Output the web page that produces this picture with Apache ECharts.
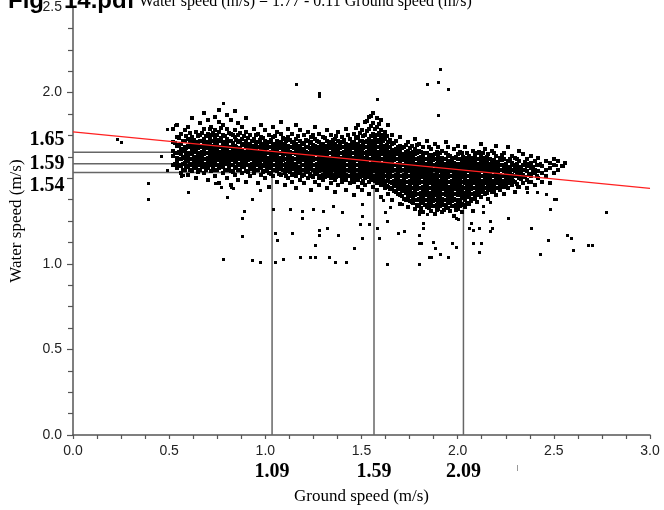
<!DOCTYPE html>
<html><head><meta charset="utf-8">
<script src="https://cdn.jsdelivr.net/npm/echarts@6/dist/echarts.min.js"></script>
<style>html,body{margin:0;padding:0;background:#fff}#c{width:664px;height:510px}</style>
</head><body><div id="c"></div>
<script>
// Ground speed columns (x) and the water speeds (y) read in each column
const colX = [0.52,0.54,0.56,0.58,0.60,0.62,0.64,0.66,0.68,0.70,
0.72,0.74,0.76,0.78,0.80,0.82,0.84,0.86,0.88,0.90,
0.92,0.94,0.96,0.98,1.00,1.02,1.04,1.06,1.08,1.10,
1.12,1.14,1.16,1.18,1.20,1.22,1.24,1.26,1.28,1.30,
1.32,1.34,1.36,1.38,1.40,1.42,1.44,1.46,1.48,1.50,
1.52,1.54,1.56,1.58,1.60,1.62,1.64,1.66,1.68,1.70,
1.72,1.74,1.76,1.78,1.80,1.82,1.84,1.86,1.88,1.90,
1.92,1.94,1.96,1.98,2.00,2.02,2.04,2.06,2.08,2.10,
2.12,2.14,2.16,2.18,2.20,2.22,2.24,2.26,2.28,2.30,
2.32,2.34,2.36,2.38,2.40,2.42,2.44,2.46,2.48,2.50,
2.52,2.54,2.56];
const colY = [
[1.58,1.63,1.66,1.71,1.79], // 0.52
[1.56,1.60,1.62,1.65,1.69,1.74,1.81], // 0.54
[1.53,1.57,1.61,1.64,1.67,1.70,1.76], // 0.56
[1.55,1.59,1.62,1.66,1.68,1.72,1.78], // 0.58
[1.52,1.57,1.60,1.63,1.65,1.69,1.73,1.80], // 0.60
[1.54,1.58,1.61,1.64,1.67,1.70,1.74,1.85], // 0.62
[1.50,1.56,1.59,1.62,1.66,1.68,1.71,1.77], // 0.64
[1.55,1.58,1.60,1.63,1.65,1.69,1.72,1.75,1.82], // 0.66
[1.53,1.57,1.61,1.64,1.67,1.70,1.73,1.79,1.88], // 0.68
[1.49,1.56,1.59,1.62,1.65,1.68,1.71,1.76,1.84], // 0.70
[1.54,1.58,1.60,1.63,1.66,1.69,1.72,1.75,1.80], // 0.72
[1.51,1.55,1.59,1.62,1.64,1.67,1.70,1.74,1.78,1.86], // 0.74
[1.47,1.56,1.58,1.61,1.65,1.68,1.72,1.77,1.83,1.90], // 0.76
[1.53,1.57,1.60,1.63,1.66,1.69,1.71,1.75,1.81], // 0.78
[1.50,1.55,1.59,1.62,1.64,1.67,1.70,1.73,1.79,1.87], // 0.80
[1.46,1.54,1.58,1.61,1.65,1.68,1.72,1.76,1.84], // 0.82
[1.52,1.56,1.60,1.63,1.66,1.69,1.74,1.78,1.89], // 0.84
[1.49,1.55,1.58,1.62,1.64,1.67,1.71,1.75,1.82], // 0.86
[1.53,1.57,1.60,1.63,1.66,1.70,1.73,1.80], // 0.88
[1.48,1.54,1.59,1.61,1.65,1.68,1.72,1.77,1.85], // 0.90
[1.51,1.56,1.58,1.62,1.64,1.67,1.70,1.75], // 0.92
[1.53,1.57,1.60,1.63,1.66,1.69,1.73,1.79], // 0.94
[1.47,1.55,1.59,1.61,1.64,1.68,1.71,1.76], // 0.96
[1.52,1.56,1.58,1.62,1.65,1.67,1.70,1.74,1.81], // 0.98
[1.50,1.54,1.57,1.60,1.63,1.66,1.69,1.72,1.78], // 1.00
[1.45,1.53,1.56,1.59,1.62,1.65,1.68,1.71,1.75], // 1.02
[1.51,1.55,1.58,1.61,1.64,1.67,1.70,1.74,1.80], // 1.04
[1.48,1.54,1.57,1.60,1.63,1.66,1.69,1.72,1.77], // 1.06
[1.52,1.56,1.59,1.62,1.65,1.68,1.71,1.76,1.83], // 1.08
[1.46,1.53,1.55,1.58,1.61,1.64,1.67,1.70,1.73], // 1.10
[1.50,1.54,1.57,1.60,1.63,1.66,1.69,1.74,1.79], // 1.12
[1.48,1.52,1.56,1.59,1.62,1.65,1.68,1.71,1.76], // 1.14
[1.44,1.51,1.55,1.58,1.61,1.64,1.67,1.70,1.73,1.81], // 1.16
[1.49,1.53,1.56,1.60,1.63,1.66,1.69,1.72,1.78], // 1.18
[1.47,1.52,1.55,1.58,1.61,1.64,1.67,1.70,1.75], // 1.20
[1.50,1.54,1.57,1.60,1.63,1.65,1.68,1.72,1.77], // 1.22
[1.43,1.51,1.56,1.59,1.62,1.64,1.67,1.71,1.74], // 1.24
[1.48,1.53,1.55,1.58,1.61,1.64,1.66,1.69,1.73,1.80], // 1.26
[1.46,1.50,1.54,1.57,1.60,1.63,1.66,1.68,1.71,1.76], // 1.28
[1.49,1.52,1.56,1.59,1.62,1.65,1.67,1.70,1.74], // 1.30
[1.44,1.51,1.55,1.58,1.60,1.63,1.66,1.69,1.72,1.78], // 1.32
[1.47,1.50,1.53,1.57,1.60,1.62,1.65,1.68,1.71,1.75], // 1.34
[1.42,1.49,1.52,1.56,1.59,1.61,1.64,1.67,1.70,1.73], // 1.36
[1.46,1.51,1.54,1.57,1.60,1.63,1.66,1.69,1.72,1.77], // 1.38
[1.48,1.50,1.53,1.56,1.59,1.62,1.65,1.68,1.71,1.74], // 1.40
[1.43,1.49,1.52,1.55,1.58,1.61,1.64,1.67,1.70,1.79], // 1.42
[1.47,1.51,1.54,1.57,1.60,1.63,1.66,1.69,1.73], // 1.44
[1.40,1.48,1.50,1.53,1.56,1.59,1.62,1.65,1.68,1.71,1.76], // 1.46
[1.45,1.49,1.52,1.55,1.58,1.61,1.64,1.67,1.70,1.74,1.81], // 1.48
[1.43,1.47,1.51,1.54,1.57,1.60,1.63,1.66,1.69,1.72,1.78], // 1.50
[1.46,1.50,1.53,1.56,1.59,1.62,1.65,1.68,1.71,1.75,1.83], // 1.52
[1.41,1.48,1.52,1.55,1.58,1.61,1.64,1.67,1.70,1.73,1.79,1.86], // 1.54
[1.45,1.49,1.51,1.54,1.57,1.60,1.63,1.66,1.69,1.72,1.76,1.82,1.88], // 1.56
[1.43,1.47,1.50,1.53,1.56,1.59,1.62,1.65,1.68,1.71,1.75,1.80,1.85], // 1.58
[1.39,1.46,1.49,1.52,1.55,1.58,1.61,1.64,1.67,1.70,1.74,1.78,1.84], // 1.60
[1.44,1.48,1.51,1.54,1.57,1.60,1.63,1.66,1.69,1.73,1.77], // 1.62
[1.41,1.45,1.50,1.53,1.56,1.59,1.62,1.65,1.68,1.71,1.81], // 1.64
[1.37,1.44,1.47,1.51,1.54,1.57,1.60,1.63,1.66,1.70,1.75], // 1.66
[1.42,1.46,1.49,1.52,1.55,1.58,1.61,1.64,1.67,1.72], // 1.68
[1.35,1.40,1.45,1.48,1.51,1.54,1.57,1.60,1.63,1.66,1.69,1.74], // 1.70
[1.38,1.43,1.46,1.49,1.52,1.55,1.58,1.61,1.64,1.68], // 1.72
[1.33,1.39,1.42,1.45,1.48,1.51,1.54,1.57,1.60,1.63,1.66,1.71], // 1.74
[1.36,1.41,1.44,1.47,1.50,1.53,1.56,1.59,1.62,1.65,1.69], // 1.76
[1.32,1.37,1.40,1.43,1.46,1.49,1.52,1.55,1.58,1.61,1.64,1.67,1.73], // 1.78
[1.34,1.38,1.41,1.44,1.47,1.50,1.53,1.56,1.59,1.62,1.66,1.70], // 1.80
[1.30,1.36,1.39,1.42,1.45,1.48,1.51,1.54,1.57,1.60,1.63,1.68], // 1.82
[1.33,1.37,1.40,1.43,1.46,1.49,1.52,1.55,1.58,1.61,1.65,1.72], // 1.84
[1.31,1.35,1.38,1.41,1.44,1.47,1.50,1.53,1.56,1.59,1.62,1.67], // 1.86
[1.29,1.34,1.37,1.40,1.43,1.46,1.49,1.52,1.55,1.58,1.61,1.64,1.70], // 1.88
[1.32,1.36,1.39,1.42,1.45,1.48,1.51,1.54,1.57,1.60,1.63,1.68], // 1.90
[1.30,1.35,1.38,1.41,1.44,1.47,1.50,1.53,1.56,1.59,1.62,1.66], // 1.92
[1.33,1.37,1.40,1.43,1.46,1.49,1.52,1.55,1.58,1.61,1.65,1.71], // 1.94
[1.31,1.36,1.39,1.42,1.45,1.48,1.51,1.54,1.57,1.60,1.63], // 1.96
[1.28,1.34,1.38,1.41,1.44,1.47,1.50,1.53,1.56,1.59,1.62,1.67], // 1.98
[1.32,1.36,1.40,1.43,1.46,1.49,1.52,1.55,1.58,1.61,1.64,1.69], // 2.00
[1.30,1.35,1.39,1.42,1.45,1.48,1.51,1.54,1.57,1.60,1.65], // 2.02
[1.33,1.37,1.41,1.44,1.47,1.50,1.53,1.56,1.59,1.62,1.68], // 2.04
[1.35,1.39,1.42,1.45,1.48,1.51,1.54,1.57,1.60,1.63], // 2.06
[1.31,1.38,1.41,1.44,1.47,1.50,1.53,1.56,1.59,1.62,1.66], // 2.08
[1.36,1.40,1.43,1.46,1.49,1.52,1.55,1.58,1.61,1.65], // 2.10
[1.39,1.42,1.45,1.48,1.51,1.54,1.57,1.60,1.63,1.70], // 2.12
[1.41,1.44,1.47,1.50,1.53,1.56,1.59,1.62,1.67], // 2.14
[1.38,1.43,1.46,1.49,1.52,1.55,1.58,1.61,1.64], // 2.16
[1.42,1.45,1.48,1.51,1.54,1.57,1.60,1.66], // 2.18
[1.40,1.44,1.47,1.50,1.53,1.56,1.59,1.63,1.69], // 2.20
[1.43,1.46,1.49,1.52,1.55,1.58,1.62], // 2.22
[1.41,1.45,1.48,1.51,1.54,1.57,1.61,1.65], // 2.24
[1.44,1.47,1.50,1.53,1.56,1.60,1.68], // 2.26
[1.46,1.49,1.52,1.55,1.59,1.63], // 2.28
[1.42,1.48,1.51,1.54,1.57,1.62], // 2.30
[1.45,1.50,1.53,1.56,1.60,1.66], // 2.32
[1.47,1.52,1.55,1.58,1.64], // 2.34
[1.44,1.49,1.54,1.57,1.61], // 2.36
[1.48,1.51,1.56,1.59,1.63], // 2.38
[1.46,1.53,1.55,1.60], // 2.40
[1.50,1.54,1.58,1.62], // 2.42
[1.48,1.53,1.57], // 2.44
[1.51,1.55,1.60], // 2.46
[1.47,1.56,1.59], // 2.48
[1.53,1.58,1.61], // 2.50
[1.55,1.60], // 2.52
[1.57], // 2.54
[1.59] // 2.56
];
// in-between columns of the dense core
const colX2 = [0.53,0.55,0.57,0.59,0.61,0.63,0.65,0.67,0.69,0.71,
0.73,0.75,0.77,0.79,0.81,0.83,0.85,0.87,0.89,0.91,
0.93,0.95,0.97,0.99,1.01,1.03,1.05,1.07,1.09,1.11,
1.13,1.15,1.17,1.19,1.21,1.23,1.25,1.27,1.29,1.31,
1.33,1.35,1.37,1.39,1.41,1.43,1.45,1.47,1.49,1.51,
1.53,1.55,1.57,1.59,1.61,1.63,1.65,1.67,1.69,1.71,
1.73,1.75,1.77,1.79,1.81,1.83,1.85,1.87,1.89,1.91,
1.93,1.95,1.97,1.99,2.01,2.03,2.05,2.07,2.09,2.11,
2.13,2.15,2.17,2.19,2.21,2.23,2.25,2.27,2.29,2.31,
2.33,2.35,2.37,2.39,2.41];
const colY2 = [
[1.585,1.645,1.705], // 0.53
[1.575,1.615,1.655,1.695,1.735], // 0.55
[1.545,1.585,1.625,1.665,1.715], // 0.57
[1.565,1.605,1.635,1.675,1.745], // 0.59
[1.545,1.585,1.615,1.645,1.685,1.715,1.765], // 0.61
[1.565,1.595,1.625,1.655,1.695,1.725], // 0.63
[1.535,1.575,1.605,1.635,1.675,1.705,1.745], // 0.65
[1.565,1.595,1.625,1.655,1.685,1.715,1.765], // 0.67
[1.545,1.585,1.615,1.645,1.675,1.705,1.745], // 0.69
[1.575,1.605,1.635,1.665,1.695,1.735,1.785], // 0.71
[1.565,1.595,1.625,1.655,1.685,1.715,1.765], // 0.73
[1.545,1.575,1.605,1.635,1.665,1.695,1.725,1.755], // 0.75
[1.565,1.595,1.625,1.655,1.685,1.735,1.795], // 0.77
[1.545,1.585,1.615,1.645,1.675,1.705,1.745], // 0.79
[1.565,1.595,1.625,1.655,1.685,1.715,1.765], // 0.81
[1.535,1.575,1.605,1.635,1.665,1.705,1.755], // 0.83
[1.565,1.595,1.625,1.655,1.685,1.725], // 0.85
[1.545,1.585,1.615,1.645,1.675,1.715,1.765], // 0.87
[1.565,1.595,1.625,1.655,1.695,1.745], // 0.89
[1.535,1.575,1.605,1.635,1.665,1.695,1.735], // 0.91
[1.555,1.585,1.615,1.645,1.685,1.715], // 0.93
[1.545,1.575,1.605,1.635,1.665,1.705,1.755], // 0.95
[1.565,1.595,1.625,1.655,1.685,1.725], // 0.97
[1.535,1.575,1.605,1.635,1.665,1.695,1.735], // 0.99
[1.555,1.585,1.615,1.645,1.675,1.705], // 1.01
[1.525,1.565,1.595,1.625,1.655,1.685,1.725], // 1.03
[1.545,1.575,1.605,1.635,1.665,1.695,1.745], // 1.05
[1.525,1.555,1.585,1.615,1.645,1.675,1.705], // 1.07
[1.545,1.575,1.605,1.635,1.665,1.695,1.735], // 1.09
[1.515,1.555,1.585,1.615,1.645,1.675,1.715], // 1.11
[1.535,1.565,1.595,1.625,1.655,1.685,1.725], // 1.13
[1.525,1.555,1.585,1.615,1.645,1.675,1.705], // 1.15
[1.535,1.565,1.595,1.625,1.655,1.685,1.745], // 1.17
[1.515,1.545,1.575,1.605,1.635,1.665,1.705], // 1.19
[1.535,1.565,1.595,1.625,1.655,1.685,1.725], // 1.21
[1.525,1.555,1.585,1.615,1.645,1.675,1.705], // 1.23
[1.505,1.545,1.575,1.605,1.635,1.665,1.695,1.755], // 1.25
[1.525,1.555,1.585,1.615,1.645,1.675,1.715], // 1.27
[1.515,1.545,1.575,1.605,1.635,1.665,1.695], // 1.29
[1.505,1.535,1.565,1.595,1.625,1.655,1.685,1.735], // 1.31
[1.525,1.555,1.585,1.615,1.645,1.675,1.705], // 1.33
[1.515,1.545,1.575,1.605,1.635,1.665,1.695,1.725], // 1.35
[1.505,1.535,1.565,1.595,1.625,1.655,1.685,1.745], // 1.37
[1.525,1.555,1.585,1.615,1.645,1.675,1.705], // 1.39
[1.505,1.535,1.565,1.595,1.625,1.655,1.685,1.725], // 1.41
[1.515,1.545,1.575,1.605,1.635,1.665,1.695,1.755], // 1.43
[1.495,1.525,1.555,1.585,1.615,1.645,1.675,1.705], // 1.45
[1.515,1.545,1.575,1.605,1.635,1.665,1.695,1.735,1.795], // 1.47
[1.505,1.535,1.565,1.595,1.625,1.655,1.685,1.715,1.765], // 1.49
[1.485,1.525,1.555,1.585,1.615,1.645,1.675,1.705,1.745], // 1.51
[1.505,1.535,1.565,1.595,1.625,1.655,1.685,1.715,1.775,1.835], // 1.53
[1.495,1.525,1.555,1.585,1.615,1.645,1.675,1.705,1.745,1.805,1.865], // 1.55
[1.485,1.515,1.545,1.575,1.605,1.635,1.665,1.695,1.735,1.785], // 1.57
[1.475,1.505,1.535,1.565,1.595,1.625,1.655,1.685,1.725,1.765,1.815], // 1.59
[1.465,1.495,1.525,1.555,1.585,1.615,1.645,1.675,1.715,1.755], // 1.61
[1.455,1.485,1.515,1.545,1.575,1.605,1.635,1.665,1.695,1.745], // 1.63
[1.435,1.475,1.505,1.535,1.565,1.595,1.625,1.655,1.685,1.725], // 1.65
[1.425,1.455,1.485,1.515,1.545,1.575,1.605,1.635,1.665,1.705], // 1.67
[1.405,1.435,1.465,1.495,1.525,1.555,1.585,1.615,1.645,1.685], // 1.69
[1.395,1.425,1.455,1.485,1.515,1.545,1.575,1.605,1.635,1.675], // 1.71
[1.375,1.415,1.445,1.475,1.505,1.535,1.565,1.595,1.625,1.655,1.695], // 1.73
[1.365,1.395,1.425,1.455,1.485,1.515,1.545,1.575,1.605,1.635,1.675], // 1.75
[1.355,1.385,1.415,1.445,1.475,1.505,1.535,1.565,1.595,1.625,1.655], // 1.77
[1.345,1.375,1.405,1.435,1.465,1.495,1.525,1.555,1.585,1.615,1.645,1.695], // 1.79
[1.325,1.355,1.385,1.415,1.445,1.475,1.505,1.535,1.565,1.595,1.625,1.655], // 1.81
[1.345,1.375,1.405,1.435,1.465,1.495,1.525,1.555,1.585,1.615,1.645], // 1.83
[1.325,1.355,1.385,1.415,1.445,1.475,1.505,1.535,1.565,1.595,1.635,1.685], // 1.85
[1.335,1.365,1.395,1.425,1.455,1.485,1.515,1.545,1.575,1.605,1.635], // 1.87
[1.315,1.345,1.375,1.405,1.435,1.465,1.495,1.525,1.555,1.585,1.615,1.655], // 1.89
[1.335,1.365,1.395,1.425,1.455,1.485,1.515,1.545,1.575,1.605,1.645], // 1.91
[1.315,1.345,1.375,1.405,1.435,1.465,1.495,1.525,1.555,1.585,1.615], // 1.93
[1.325,1.355,1.385,1.415,1.445,1.475,1.505,1.535,1.565,1.595,1.635,1.685], // 1.95
[1.335,1.365,1.395,1.425,1.455,1.485,1.515,1.545,1.575,1.605], // 1.97
[1.315,1.345,1.375,1.405,1.435,1.465,1.495,1.525,1.555,1.585,1.625], // 1.99
[1.335,1.375,1.405,1.435,1.465,1.495,1.525,1.555,1.585,1.615,1.655], // 2.01
[1.345,1.385,1.415,1.445,1.475,1.505,1.535,1.565,1.595,1.625], // 2.03
[1.355,1.395,1.425,1.455,1.485,1.515,1.545,1.575,1.605,1.645], // 2.05
[1.365,1.405,1.435,1.465,1.495,1.525,1.555,1.585,1.615], // 2.07
[1.385,1.415,1.445,1.475,1.505,1.535,1.565,1.595,1.635], // 2.09
[1.405,1.435,1.465,1.495,1.525,1.555,1.585,1.615,1.655], // 2.11
[1.425,1.455,1.485,1.515,1.545,1.575,1.605,1.645], // 2.13
[1.415,1.445,1.475,1.505,1.535,1.565,1.595,1.625], // 2.15
[1.435,1.465,1.495,1.525,1.555,1.585,1.615], // 2.17
[1.425,1.455,1.485,1.515,1.545,1.575,1.605,1.645], // 2.19
[1.445,1.475,1.505,1.535,1.565,1.595], // 2.21
[1.455,1.485,1.515,1.545,1.575,1.605,1.635], // 2.23
[1.465,1.495,1.525,1.555,1.585], // 2.25
[1.475,1.505,1.535,1.565,1.615], // 2.27
[1.485,1.515,1.545,1.575], // 2.29
[1.465,1.525,1.555,1.585,1.615], // 2.31
[1.495,1.535,1.565], // 2.33
[1.505,1.545,1.595], // 2.35
[1.475,1.525,1.585], // 2.37
[1.535,1.565], // 2.39
[1.515,1.575] // 2.41
];
// isolated points away from the main cloud
const outX = [0.23,0.25,0.46,0.49,0.39,0.39,0.56,0.60,0.57,0.74,0.77,0.82,0.49,0.53,
0.80,0.83,0.97,0.93,0.89,0.88,0.88,0.78,0.93,0.97,
1.04,1.05,1.06,1.05,1.09,1.14,1.18,1.23,1.26,1.33,1.36,1.42,1.46,1.50,1.26,1.28,1.28,1.32,1.38,
1.19,1.19,1.25,1.30,1.35,1.40,1.13,1.49,1.50,1.54,1.50,1.54,1.59,1.62,1.63,1.63,1.69,1.72,
1.80,1.80,1.81,1.80,1.82,1.82,1.87,1.88,1.85,1.86,1.91,1.95,1.97,1.99,1.99,2.00,2.06,2.07,2.08,2.08,
2.12,2.11,2.11,2.13,2.17,2.18,2.17,2.26,2.38,2.43,2.47,2.48,2.46,2.51,2.57,2.59,2.60,2.68,2.70,2.77,
2.13,2.17,2.36,1.80,1.80,1.84,1.71,1.65,1.61,1.58,2.31,2.41,2.50,2.43,2.51,2.55,
1.16,1.28,1.28,1.58,0.78,1.91,1.84,1.90,1.95,1.90];
const outY = [1.73,1.71,1.63,1.55,1.47,1.38,1.51,1.42,1.52,1.47,1.45,1.45,1.79,1.81,
1.39,1.44,1.43,1.38,1.31,1.27,1.16,1.03,1.02,1.01,
1.32,1.18,1.14,1.01,1.03,1.18,1.04,1.04,1.04,1.04,1.01,1.01,1.09,1.15,1.11,1.17,1.20,1.21,1.17,
1.27,1.31,1.32,1.31,1.34,1.30,1.32,1.23,1.28,1.23,1.35,1.41,1.15,1.30,1.25,1.00,1.18,1.19,
1.17,1.12,1.12,1.00,1.24,1.21,1.13,1.09,1.04,1.04,1.06,1.04,1.12,1.10,1.27,1.26,1.21,1.24,1.20,1.12,
1.12,1.07,1.21,1.30,1.25,1.21,1.19,1.27,1.21,1.06,1.14,1.32,1.41,1.38,1.17,1.15,1.08,1.11,1.11,1.30,
1.34,1.36,1.42,1.29,1.31,1.29,1.35,1.33,1.37,1.21,1.45,1.42,1.38,1.59,1.58,1.57,
2.05,2.00,1.98,1.96,1.94,2.14,2.05,2.06,2.02,1.87];
// fitted line: Water speed = 1.77 - 0.11 Ground speed
const regX = [0, 3];
const regY = [1.77, 1.44];
// guide lines drawn at these positions, with the labels printed beside them
const guideX = [1.035, 1.565, 2.03];
const guideY = [1.652, 1.584, 1.533];
const guideXLabels = ['1.09', '1.59', '2.09'];
const guideYLabels = ['1.65', '1.59', '1.54'];

const cloud = [];
colX.forEach((x, i) => colY[i].forEach(y => cloud.push([x, y])));
colX2.forEach((x, i) => (colY2[i] || []).forEach(y => cloud.push([x, y])));
const lone = outX.map((x, i) => [x, outY[i]]);

const chart = echarts.init(document.getElementById('c'), null, {renderer: 'canvas'});
const axisCol = '#555';
const serif = '"Liberation Serif","Times New Roman",serif';
const sans = '"Liberation Sans",Arial,sans-serif';

const guideSeries = guideX.map((gx, i) => ({
  type: 'line', data: [[0, guideY[i]], [gx, guideY[i]], [gx, 0]],
  symbol: 'none', z: 1, silent: true,
  lineStyle: {color: '#666', width: 1.5}
}));

const squares = (w, h) => (params, api) => {
  const c = api.coord([api.value(0), api.value(1)]);
  return {type: 'rect', shape: {x: Math.round(c[0]) - Math.floor(w / 2), y: Math.round(c[1]) - Math.floor(h / 2), width: w, height: h},
          style: {fill: '#000'}};
};

chart.setOption({
  animation: false,
  backgroundColor: '#fff',
  grid: {left: 73, right: 14, top: 6, bottom: 75},
  xAxis: {
    type: 'value', min: 0, max: 3, interval: 0.5,
    name: 'Ground speed (m/s)', nameLocation: 'middle', nameGap: 53,
    nameTextStyle: {fontFamily: serif, fontSize: 17, color: '#000'},
    axisLine: {lineStyle: {color: axisCol, width: 1.5}},
    axisTick: {length: 4, lineStyle: {color: axisCol, width: 1.2}},
    minorTick: {show: true, splitNumber: 4, length: 4, lineStyle: {color: axisCol, width: 1.2}},
    axisLabel: {fontFamily: sans, fontSize: 14, color: '#222', margin: 9, formatter: v => v.toFixed(1)},
    splitLine: {show: false}
  },
  yAxis: {
    type: 'value', min: 0, max: 2.5, interval: 0.5,
    name: 'Water speed (m/s)', nameLocation: 'middle', nameGap: 48,
    nameTextStyle: {fontFamily: serif, fontSize: 17, color: '#000'},
    axisLine: {lineStyle: {color: axisCol, width: 1.5}},
    axisTick: {length: 6, lineStyle: {color: axisCol, width: 1.2}},
    minorTick: {show: true, splitNumber: 4, length: 5, lineStyle: {color: axisCol, width: 1.2}},
    axisLabel: {fontFamily: sans, fontSize: 14, color: '#222', margin: 11,
      formatter: v => (Math.abs(v - 1.5) < 1e-9 ? '' : v.toFixed(1))},
    splitLine: {show: false}
  },
  series: guideSeries.concat([
    {type: 'custom', data: cloud, z: 2, silent: true, encode: {x: 0, y: 1}, renderItem: squares(4, 4)},
    {type: 'custom', data: lone, z: 2, silent: true, encode: {x: 0, y: 1}, renderItem: squares(3, 3)},
    {type: 'line', data: regX.map((x, i) => [x, regY[i]]), symbol: 'none', z: 3, silent: true,
     lineStyle: {color: '#ff2020', width: 1.3}}
  ])
});

const px = p => chart.convertToPixel({gridIndex: 0}, p);
const yOff = [-12, 0, 13];
const graphics = [
  {type: 'text', left: 8, top: -11, z: 10,
   style: {text: 'Fig   14.pdf', font: 'bold 24px ' + sans, fill: '#000'}},
  {type: 'text', left: 139, top: -6, z: 10,
   style: {text: 'Water speed (m/s) = 1.77 - 0.11 Ground speed (m/s)', font: '16px ' + serif, fill: '#000'}},
  {type: 'rect', shape: {x: 517, y: 465, width: 1, height: 6}, style: {fill: '#999'}}
];
guideY.forEach((gy, i) => {
  const p = px([0, gy]);
  graphics.push({type: 'text', x: 47, y: p[1] + yOff[i], z: 10,
    style: {text: guideYLabels[i], font: 'bold 20px ' + serif, fill: '#000', align: 'center', verticalAlign: 'middle'}});
});
guideX.forEach((gx, i) => {
  const p = px([gx, 0]);
  graphics.push({type: 'text', x: p[0], y: 472, z: 10,
    style: {text: guideXLabels[i], font: 'bold 20px ' + serif, fill: '#000', align: 'center', verticalAlign: 'middle'}});
});
chart.setOption({graphic: graphics});
</script>
</body></html>
